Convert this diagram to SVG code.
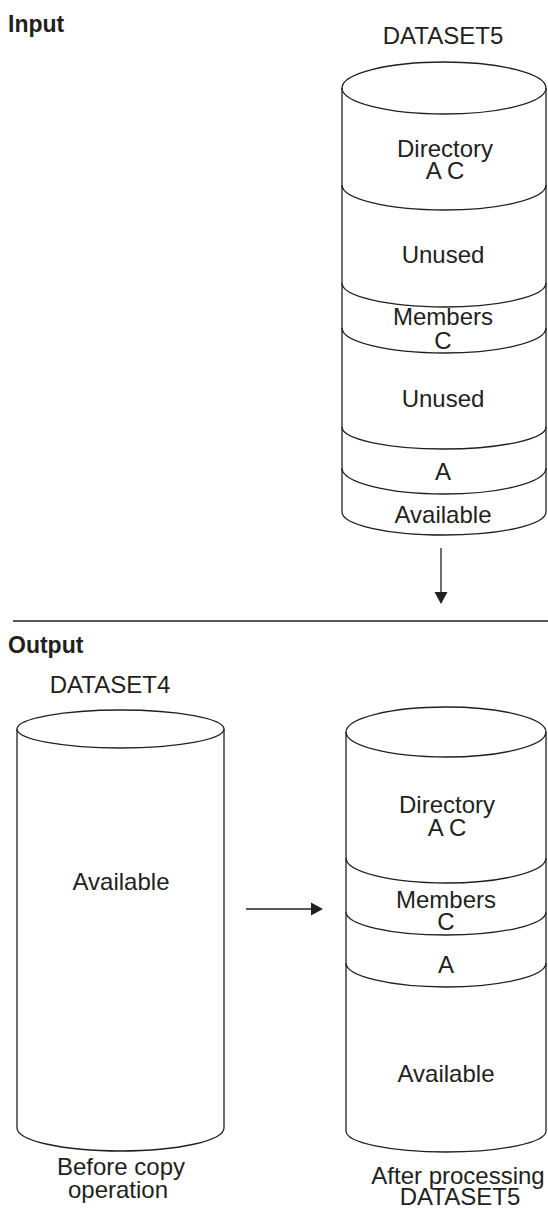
<svg xmlns="http://www.w3.org/2000/svg" width="548" height="1209" viewBox="0 0 548 1209">
<style>
.t{font-family:"Liberation Sans",Arial,sans-serif;font-size:24px;fill:#231f20;text-anchor:middle}
.h{font-family:"Liberation Sans",Arial,sans-serif;font-size:23px;font-weight:bold;fill:#231f20}
.s{fill:none;stroke:#231f20;stroke-width:1.3}
</style>
<rect width="548" height="1209" fill="#fff"/>
<text class="h" x="8" y="32">Input</text>
<text class="h" x="8" y="653">Output</text>
<g id="dataset5-input">
<text class="t" x="443" y="44">DATASET5</text>
<ellipse class="s" cx="444" cy="88" rx="102" ry="26"/>
<path class="s" d="M342,88 V512 A102,23 0 0,0 546,512 V88"/>
<path class="s" d="M342,185 A102,25 0 0,0 546,185"/>
<path class="s" d="M342,283 A102,24 0 0,0 546,283"/>
<path class="s" d="M342,328 A102,25 0 0,0 546,328"/>
<path class="s" d="M342,427 A102,22 0 0,0 546,427"/>
<path class="s" d="M342,468 A102,26 0 0,0 546,468"/>
<text class="t" x="445" y="157">Directory</text>
<text class="t" x="445" y="179">A C</text>
<text class="t" x="443" y="263">Unused</text>
<text class="t" x="443" y="325">Members</text>
<text class="t" x="443" y="349">C</text>
<text class="t" x="443" y="407">Unused</text>
<text class="t" x="443" y="480">A</text>
<text class="t" x="443" y="523">Available</text>
</g>
<g id="dataset4">
<text class="t" x="110" y="693">DATASET4</text>
<ellipse class="s" cx="120.5" cy="729" rx="103.5" ry="19"/>
<path class="s" d="M17,729 V1128 A103.5,23 0 0,0 224,1128 V729"/>
<text class="t" x="121" y="890">Available</text>
<text class="t" x="121" y="1175">Before copy</text>
<text class="t" x="118" y="1198">operation</text>
</g>
<g id="dataset5-output">
<ellipse class="s" cx="446" cy="732" rx="100" ry="25"/>
<path class="s" d="M346,732 V1131 A100,21 0 0,0 546,1131 V732"/>
<path class="s" d="M346,858 A100,25 0 0,0 546,858"/>
<path class="s" d="M346,912 A100,23 0 0,0 546,912"/>
<path class="s" d="M346,963 A100,24 0 0,0 546,963"/>
<text class="t" x="447" y="813">Directory</text>
<text class="t" x="447" y="836">A C</text>
<text class="t" x="446" y="908">Members</text>
<text class="t" x="446" y="930">C</text>
<text class="t" x="446" y="973">A</text>
<text class="t" x="446" y="1082">Available</text>
<text class="t" x="458" y="1184">After processing</text>
<text class="t" x="460" y="1205">DATASET5</text>
</g>
<g id="connectors">
<line class="s" x1="13" y1="621" x2="548" y2="621"/>
<line class="s" x1="441" y1="548" x2="441" y2="593"/>
<polygon points="434.5,592 447.5,592 441,604" fill="#231f20"/>
<line class="s" x1="246" y1="909" x2="312" y2="909"/>
<polygon points="311,902.5 311,915.5 323,909" fill="#231f20"/>
</g>
</svg>
